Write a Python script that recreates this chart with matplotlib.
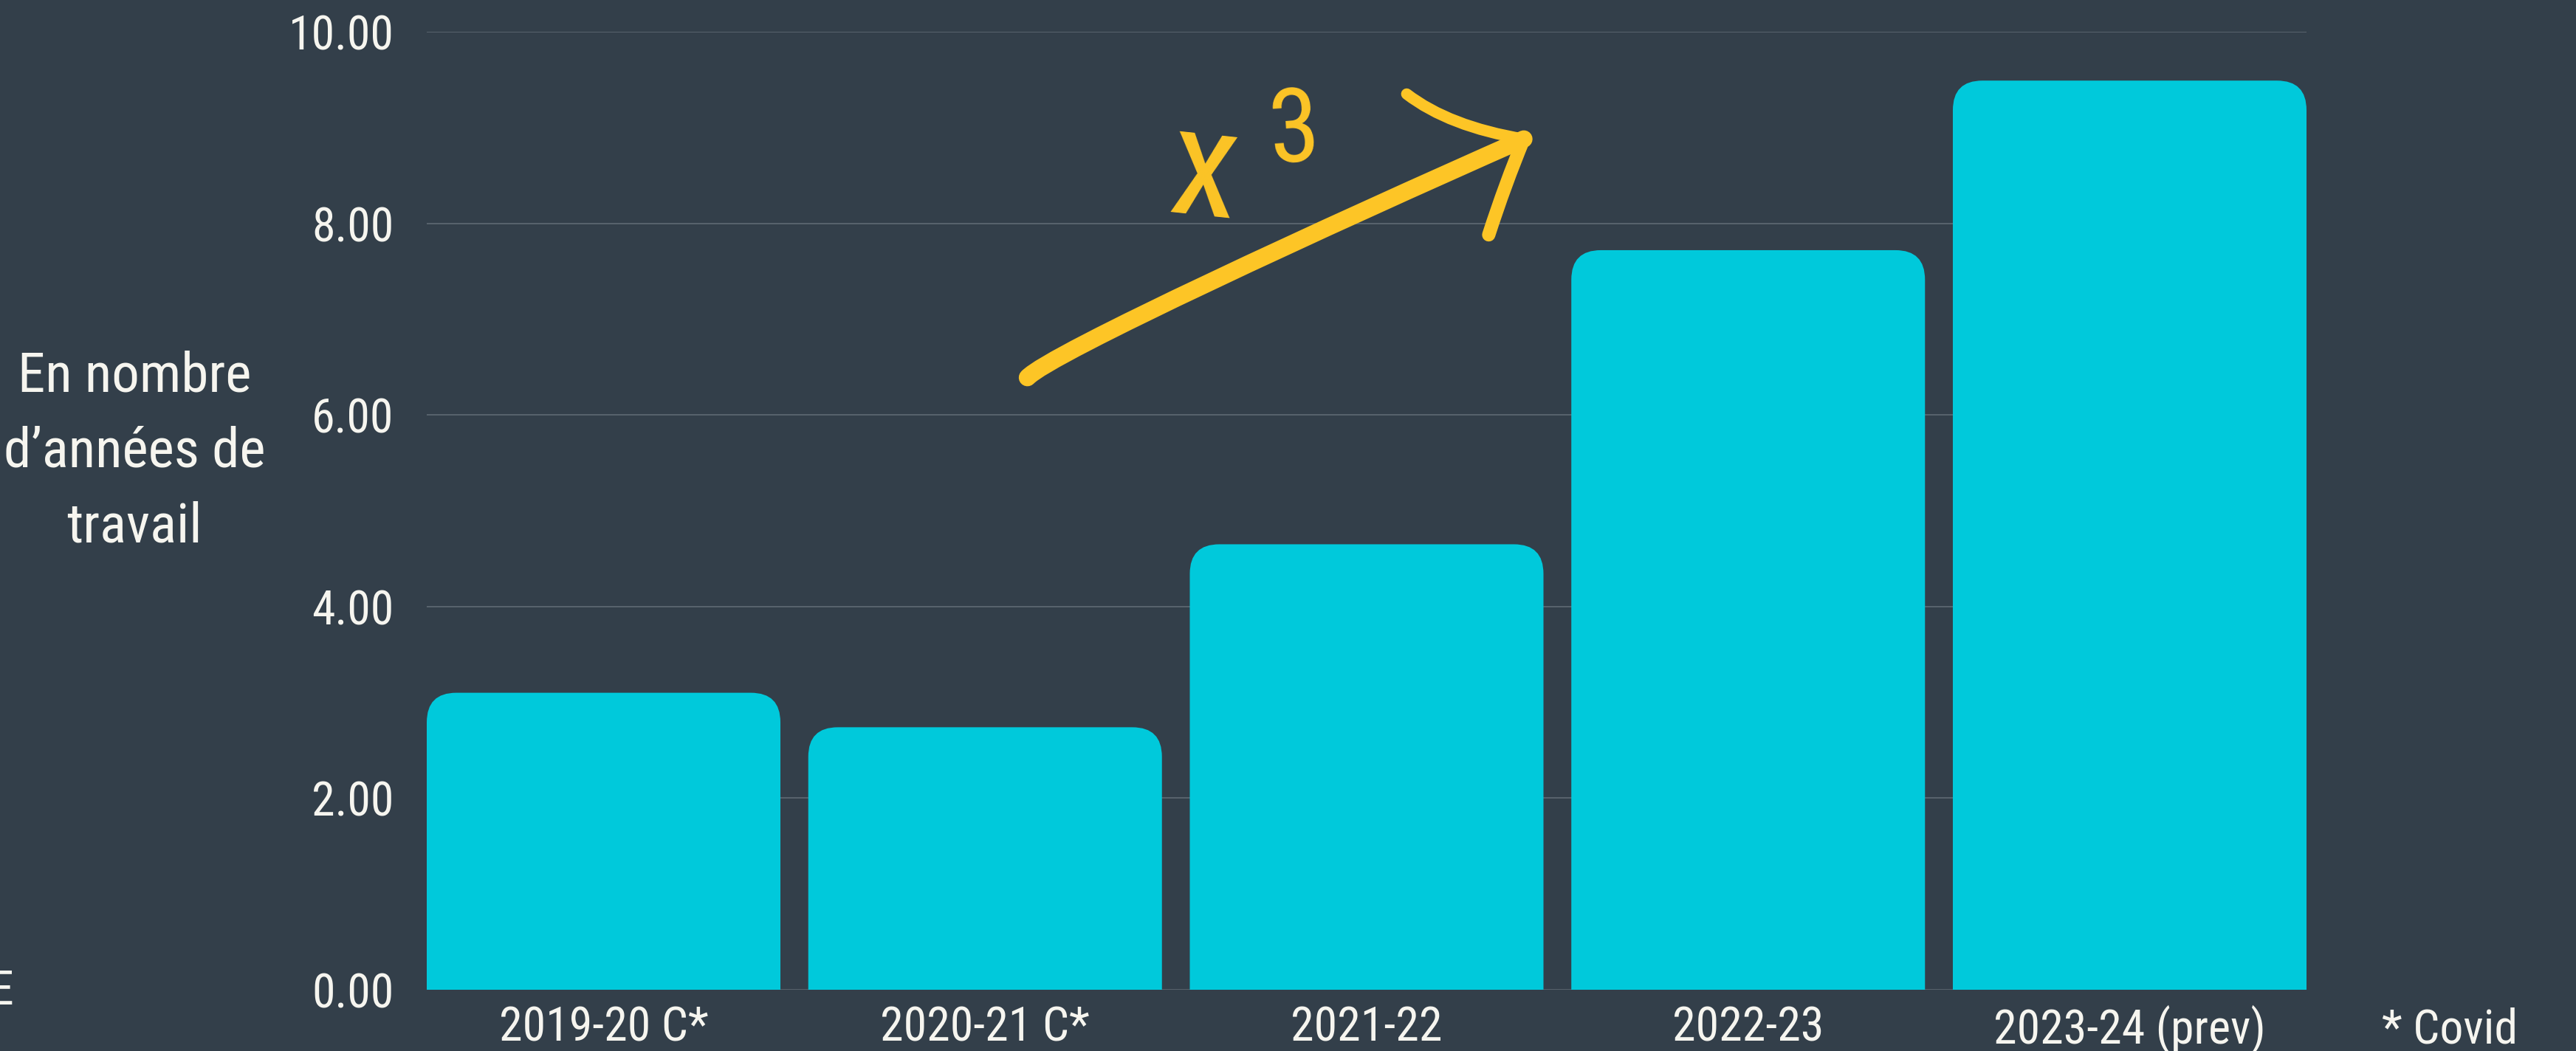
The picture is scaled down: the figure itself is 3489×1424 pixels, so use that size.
import os
import numpy as np
import matplotlib
matplotlib.use("Agg")
import matplotlib.pyplot as plt
from matplotlib import font_manager as fm
from matplotlib.patches import FancyBboxPatch, PathPatch
from matplotlib.path import Path

# data
years = ["2019-20 C*", "2020-21 C*", "2021-22", "2022-23", "2023-24 (prev)"]
values = [3.10, 2.74, 4.65, 7.72, 9.49]
yticks = [0, 2, 4, 6, 8, 10]

BG = "#333f4a"
BAR = "#00c9db"
YEL = "#fdc526"
TXT = "#f6f5ef"
GRID = "#5f6a74"


def pick_narrow_font():
    """Look for a condensed / narrow sans face among the installed fonts."""
    wanted = ["LiberationSansNarrow-Regular", "RobotoCondensed-Regular",
              "RobotoCondensed-Light", "NotoSans-CondensedLight",
              "NotoSans-Condensed.", "NotoSans-CondensedRegular",
              "OpenSans-CondensedLight", "OpenSans_Condensed-Regular",
              "OpenSans-CondensedRegular", "DejaVuSansCondensed."]
    files = [f.fname for f in fm.fontManager.ttflist]
    for w in wanted:
        for f in files:
            if w in os.path.basename(f):
                return f
    for f in files:
        b = os.path.basename(f)
        if ("Condensed" in b or "Narrow" in b) and not any(
                k in b for k in ("Bold", "Italic", "Oblique", "Black", "Semi", "Extra", "Medium", "Thin")):
            return f
    return None


narrow = pick_narrow_font()


def fp(size):
    if narrow:
        return fm.FontProperties(fname=narrow, size=size)
    return fm.FontProperties(family="DejaVu Sans", size=size * 0.85)


W, H = 3489, 1424
fig = plt.figure(figsize=(W / 100, H / 100), dpi=100, facecolor=BG)
ax = fig.add_axes([578 / W, 83 / H, (3124 - 578) / W, (1341 - 43) / H])
ax.set_facecolor(BG)

x = np.arange(len(years))
bw = 0.927
ax.set_xlim(-bw / 2, len(years) - 1 + bw / 2)
ax.set_ylim(0, 10)

# gridlines and ticks
ax.set_yticks(yticks)
ax.set_yticklabels([f"{v:.2f}" for v in yticks])
ax.grid(axis="y", color=GRID, linewidth=1.2, zorder=0)
ax.set_axisbelow(True)
for s in ax.spines.values():
    s.set_visible(False)
ax.tick_params(axis="y", length=0, pad=32, labelcolor=TXT)
ax.set_xticks(x)
ax.set_xticklabels(years)
ax.tick_params(axis="x", length=0, pad=15, labelcolor=TXT)
for lbl in ax.get_xticklabels() + ax.get_yticklabels():
    lbl.set_fontproperties(fp(46))

# bars with rounded tops (bottom rounding hidden below the axis)
bars = ax.bar(x, values, width=bw, color=BAR, zorder=2)
px_x = (3124 - 578) / (ax.get_xlim()[1] - ax.get_xlim()[0])
px_y = (1341 - 43) / 10.0
aspect = px_x / px_y
rad = 40 / px_x
for b in bars:
    b.set_visible(False)
    p = FancyBboxPatch((b.get_x(), -1.0), b.get_width(), b.get_height() + 1.0,
                       boxstyle=f"round,pad=0,rounding_size={rad}",
                       mutation_aspect=aspect, facecolor=BAR, edgecolor="none",
                       zorder=2)
    ax.add_patch(p)

# hand drawn "x 3" arrow
shaft = Path([(1.111, 6.39), (1.17, 6.64), (1.90, 7.98), (2.412, 8.88)],
             [Path.MOVETO, Path.CURVE4, Path.CURVE4, Path.CURVE4])
ax.add_patch(PathPatch(shaft, facecolor="none", edgecolor=YEL, lw=17,
                       capstyle="round", joinstyle="round", zorder=5,
                       clip_on=False))
barb1 = Path([(2.105, 9.35), (2.216, 9.01), (2.412, 8.88)],
             [Path.MOVETO, Path.CURVE3, Path.CURVE3])
ax.add_patch(PathPatch(barb1, facecolor="none", edgecolor=YEL, lw=11,
                       capstyle="round", zorder=5, clip_on=False))
barb2 = Path([(2.412, 8.88), (2.363, 8.41), (2.320, 7.88)],
             [Path.MOVETO, Path.CURVE3, Path.CURVE3])
ax.add_patch(PathPatch(barb2, facecolor="none", edgecolor=YEL, lw=13,
                       capstyle="round", zorder=5, clip_on=False))
ax.text(1.574, 8.52, "x", color=YEL, fontproperties=fp(150), ha="center",
        va="center", rotation=-6, zorder=5)
ax.text(1.811, 8.94, "3", color=YEL, fontproperties=fp(100), ha="center",
        va="center", rotation=4, zorder=5)

# y label and notes
fig.text(182 / W, 1 - 612 / H, "En nombre\nd\u2019ann\u00e9es de\ntravail",
         color=TXT, fontproperties=fp(54), ha="center", va="center",
         multialignment="center", linespacing=1.55)
fig.text(3318 / W, 1 - 1395 / H, "* Covid", color=TXT, fontproperties=fp(46),
         ha="center", va="center")
fig.text(18 / W, 1 - 1343 / H, "E", color=TXT, fontproperties=fp(46),
         ha="right", va="center")

fig.savefig("out.png", dpi=100, facecolor=BG)
